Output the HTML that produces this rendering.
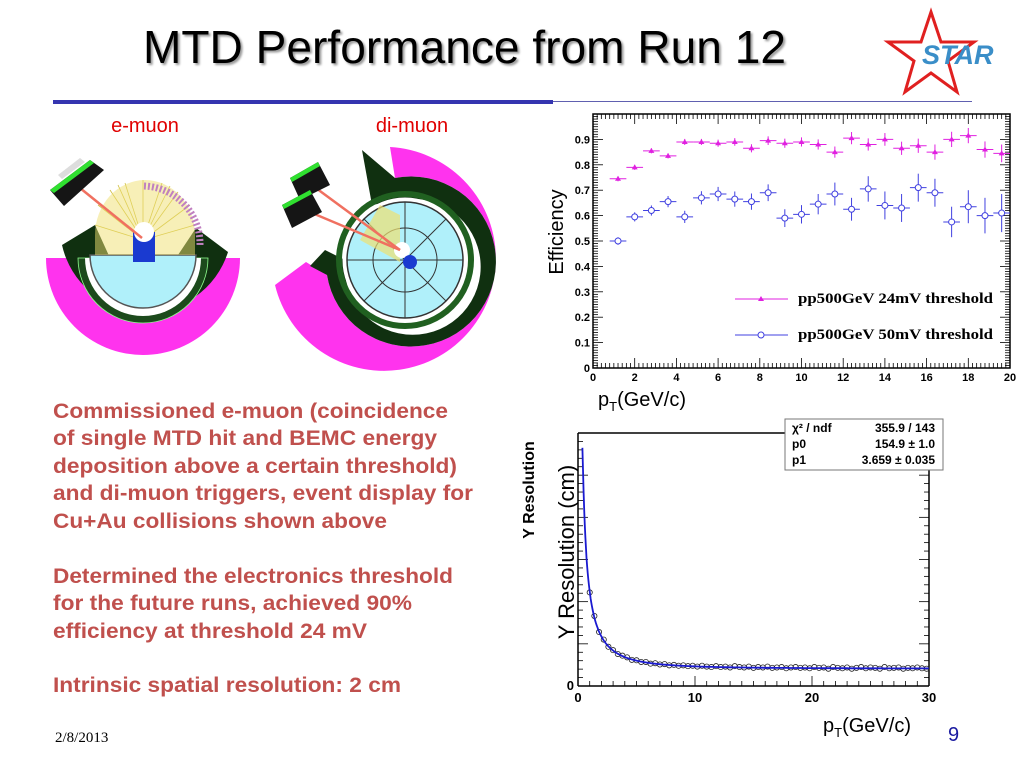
<!DOCTYPE html>
<html><head><meta charset="utf-8"><style>
html,body{margin:0;padding:0;background:#fff;}
svg{display:block;font-family:"Liberation Sans",sans-serif;}
</style></head><body>
<svg id="s" width="1024" height="768" viewBox="0 0 1024 768">
<text x="143" y="63" font-size="46" textLength="643" lengthAdjust="spacingAndGlyphs" fill="#000" style="text-shadow:2px 2px 2px #999">MTD Performance from Run 12</text>
<g>
<polygon points="931,12 941,42 974,42 948,61 957,92 931,73 905,92 914,61 888,42 921,42" fill="none" stroke="#e02020" stroke-width="3"/>
<text x="922" y="64" font-size="27" font-weight="bold" font-style="italic" fill="#3a8ec8">STAR</text>
</g>
<rect x="53" y="100" width="500" height="4" fill="#3535b0"/>
<rect x="553" y="101" width="419" height="1" fill="#6060b0"/>
<text x="145" y="132" font-size="20" fill="#e00000" text-anchor="middle">e-muon</text>
<text x="412" y="132" font-size="20" fill="#e00000" text-anchor="middle">di-muon</text>

<g>
<path d="M46,258 L240,258 A97,97 0 0 1 46,258 Z" fill="#ff33ee"/>
<path d="M62,245 L95,225 L110,258 L176,258 L196,228 L228,252 A86,86 0 0 1 62,245 Z" fill="#103010"/>
<path d="M78,258 L208,258 A65,65 0 0 1 78,258 Z" fill="#1c4a1c" stroke="#90ff90" stroke-width="0.8"/>
<path d="M85,258 L201,258 A58,58 0 0 1 85,258 Z" fill="#fff"/>
<path d="M90,255 L196,255 A53,53 0 0 1 90,255 Z" fill="#b0f0fa" stroke="#555" stroke-width="1.5"/>
<g stroke="#cfbe40" stroke-width="0.8">
<line x1="143" y1="240" x2="98" y2="205"/><line x1="143" y1="240" x2="110" y2="190"/><line x1="143" y1="240" x2="125" y2="183"/><line x1="143" y1="240" x2="143" y2="180"/><line x1="143" y1="240" x2="162" y2="183"/><line x1="143" y1="240" x2="178" y2="192"/><line x1="143" y1="240" x2="190" y2="205"/><line x1="143" y1="240" x2="95" y2="225"/><line x1="143" y1="240" x2="195" y2="225"/><line x1="143" y1="240" x2="118" y2="185"/><line x1="143" y1="240" x2="170" y2="186"/></g>
<path d="M95,235 A50,55 0 0 1 195,235 L195,255 L95,255Z" fill="#f0e070" opacity="0.5"/>
<rect x="133" y="232" width="22" height="30" fill="#1a3ad0"/><circle cx="144" cy="232" r="10" fill="#fff"/>
<line x1="80" y1="188" x2="142" y2="238" stroke="#f07060" stroke-width="2.5"/>
<path d="M144,186 A58,58 0 0 1 200,245" fill="none" stroke="#c080c0" stroke-width="7" stroke-dasharray="2,2"/>
<polygon points="50,190 90,160 104,170 64,206" fill="#151515"/><polygon points="50,190 90,160 94,163 54,193" fill="#30e030"/>
<polygon points="58,175 80,158 85,162 62,179" fill="#ddd"/>
</g>

<g>
<path d="M390,147 A112,112 0 1 1 275,285 L306,262 L327,275 A85,85 0 1 0 395,178 Z" fill="#ff33ee"/>
<path d="M395,178 A85,85 0 1 1 327,275 L310,266 L325,250 L345,260 A68,68 0 1 0 400,200 L372,205 L362,150 Z" fill="#103010"/>
<circle cx="405" cy="260" r="66" fill="none" stroke="#206020" stroke-width="6"/>
<circle cx="405" cy="260" r="61" fill="none" stroke="#fff" stroke-width="3"/>
<circle cx="405" cy="260" r="58" fill="#b0f0fa" stroke="#333" stroke-width="1.5"/>
<g stroke="#333" stroke-width="1"><circle cx="405" cy="260" r="32" fill="none"/>
<line x1="405" y1="202" x2="405" y2="318"/><line x1="347" y1="260" x2="463" y2="260"/><line x1="364" y1="219" x2="446" y2="301"/><line x1="446" y1="219" x2="364" y2="301"/></g>
<path d="M360,240 L380,205 L400,215 L400,262 Z" fill="#f0e070" opacity="0.7"/>
<circle cx="402" cy="250" r="8" fill="#fff"/><circle cx="410" cy="262" r="7" fill="#1a3ad0"/>
<line x1="305" y1="180" x2="400" y2="250" stroke="#f07060" stroke-width="2.5"/>
<line x1="305" y1="210" x2="400" y2="250" stroke="#f07060" stroke-width="2.5"/>
<polygon points="290,178 318,162 330,185 300,200" fill="#151515"/><polygon points="290,178 318,162 320,166 292,182" fill="#30e030"/>
<polygon points="282,205 310,190 322,212 292,228" fill="#151515"/><polygon points="282,205 310,190 312,194 284,209" fill="#30e030"/>
</g>

<g fill="#c0504d" font-size="21" font-weight="bold" lengthAdjust="spacingAndGlyphs">
<text x="53" y="418" textLength="395" lengthAdjust="spacingAndGlyphs">Commissioned e-muon (coincidence</text>
<text x="53" y="445" textLength="384" lengthAdjust="spacingAndGlyphs">of single MTD hit and BEMC energy</text>
<text x="53" y="473" textLength="404" lengthAdjust="spacingAndGlyphs">deposition above a certain threshold)</text>
<text x="53" y="500" textLength="420" lengthAdjust="spacingAndGlyphs">and di-muon triggers, event display for</text>
<text x="53" y="528" textLength="334" lengthAdjust="spacingAndGlyphs">Cu+Au collisions shown above</text>
<text x="53" y="583" textLength="400" lengthAdjust="spacingAndGlyphs">Determined the electronics threshold</text>
<text x="53" y="610" textLength="359" lengthAdjust="spacingAndGlyphs">for the future runs, achieved 90%</text>
<text x="53" y="638" textLength="314" lengthAdjust="spacingAndGlyphs">efficiency at threshold 24 mV</text>
<text x="53" y="692" textLength="348" lengthAdjust="spacingAndGlyphs">Intrinsic spatial resolution: 2 cm</text>
</g>
<text x="55" y="742" font-family="Liberation Serif,serif" font-size="15" fill="#000">2/8/2013</text>
<text x="948" y="741" font-size="20" fill="#1a1aa0">9</text>

<g id="eff"></g>
<g id="res"></g>
</svg>
<script>
// ---- efficiency chart data ----
const effPt = [1.2,2,2.8,3.6,4.4,5.2,6,6.8,7.6,8.4,9.2,10,10.8,11.6,12.4,13.2,14,14.8,15.6,16.4,17.2,18,18.8,19.6];
const eff24 = [0.745,0.79,0.855,0.835,0.89,0.89,0.885,0.89,0.865,0.895,0.885,0.89,0.88,0.85,0.905,0.88,0.9,0.865,0.875,0.85,0.9,0.915,0.86,0.845];
const err24 = [0.01,0.01,0.01,0.01,0.012,0.012,0.014,0.015,0.016,0.017,0.018,0.018,0.02,0.022,0.024,0.024,0.025,0.026,0.028,0.03,0.03,0.03,0.032,0.035];
const eff50 = [0.50,0.595,0.62,0.655,0.595,0.67,0.685,0.665,0.655,0.69,0.59,0.605,0.645,0.685,0.625,0.705,0.64,0.63,0.71,0.69,0.575,0.635,0.60,0.61];
const err50 = [0.015,0.018,0.02,0.022,0.024,0.026,0.028,0.03,0.032,0.033,0.035,0.036,0.04,0.045,0.045,0.05,0.055,0.055,0.055,0.055,0.06,0.065,0.07,0.075];
const effYTicks = ['0','0.1','0.2','0.3','0.4','0.5','0.6','0.7','0.8','0.9'];
const effXTicks = ['0','2','4','6','8','10','12','14','16','18','20'];
// ---- resolution chart data ----
const resPt = [1.0,1.4,1.8,2.2,2.6,3.0,3.4,3.8,4.2,4.6,5.0,5.4,5.8,6.2,6.6,7.0,7.4,7.8,8.2,8.6,9.0,9.4,9.8,10.2,10.6,11.0,11.4,11.8,12.2,12.6,13.0,13.4,13.8,14.2,14.6,15.0,15.4,15.8,16.2,16.6,17.0,17.4,17.8,18.2,18.6,19.0,19.4,19.8,20.2,20.6,21.0,21.4,21.8,22.2,22.6,23.0,23.4,23.8,24.2,24.6,25.0,25.4,25.8,26.2,26.6,27.0,27.4,27.8,28.2,28.6,29.0,29.4,29.8];
const resVal = [2.22,1.66,1.28,1.10,0.93,0.85,0.76,0.72,0.68,0.62,0.61,0.57,0.57,0.53,0.54,0.51,0.52,0.49,0.50,0.48,0.49,0.47,0.48,0.46,0.48,0.46,0.45,0.47,0.45,0.46,0.44,0.47,0.45,0.44,0.46,0.43,0.45,0.44,0.46,0.43,0.44,0.45,0.42,0.44,0.45,0.43,0.44,0.42,0.45,0.43,0.44,0.41,0.45,0.43,0.42,0.44,0.41,0.43,0.45,0.42,0.44,0.43,0.41,0.45,0.42,0.43,0.44,0.41,0.43,0.42,0.44,0.42,0.41];
const fitA = [2.2];
const fitB = [0.41];
const resXTicks = ['0','10','20','30'];
const statLabels = ['χ² / ndf','p0','p1'];
const statValues = ['355.9 / 143','154.9 ± 1.0','3.659 ± 0.035'];

const NS='http://www.w3.org/2000/svg';
function mk(parent,tag,attrs){const e=document.createElementNS(NS,tag);for(const k in attrs)e.setAttribute(k,attrs[k]);parent.appendChild(e);return e;}

// efficiency axes
const eg=document.getElementById('eff');
const ex0=593,ex1=1010,ey0=368,ey1=114;
const exs=v=>ex0+(v/20)*(ex1-ex0);
const eys=v=>ey0-(v/1.0)*(ey0-ey1);
let fr=mk(eg,'rect',{x:ex0,y:ey1,width:ex1-ex0,height:ey0-ey1,fill:'#fff',stroke:'#000','stroke-width':1.5});


for(let i=0;i<=100;i++){const v=i*0.01;const len=i%10===0?10:5;
 mk(eg,'line',{x1:ex0,x2:ex0+len,y1:eys(v),y2:eys(v),stroke:'#000','stroke-width':0.8});
 mk(eg,'line',{x1:ex1,x2:ex1-len,y1:eys(v),y2:eys(v),stroke:'#000','stroke-width':0.8});}
for(let i=0;i<=100;i++){const v=i*0.2;const len=i%10===0?10:5;
 mk(eg,'line',{x1:exs(v),x2:exs(v),y1:ey0,y2:ey0-len,stroke:'#000','stroke-width':0.8});
 mk(eg,'line',{x1:exs(v),x2:exs(v),y1:ey1,y2:ey1+len,stroke:'#000','stroke-width':0.8});}
effYTicks.forEach((t,i)=>{const e=mk(eg,'text',{x:ex0-3,y:eys(i*0.1)+4,'font-size':11,'font-weight':'bold','text-anchor':'end'});e.textContent=t;
 
 });
effXTicks.forEach((t,i)=>{const e=mk(eg,'text',{x:exs(i*2),y:ey0+13,'font-size':11,'font-weight':'bold','text-anchor':'middle'});e.textContent=t;
 
 });
let yt=mk(eg,'text',{x:0,y:0,'font-size':20,'text-anchor':'middle',transform:'translate(563,232) rotate(-90)'});yt.textContent='Efficiency';


let xt=mk(eg,'text',{x:598,y:406,'font-size':20});xt.innerHTML='p<tspan font-size="13" dy="5">T</tspan><tspan dy="-5">(GeV/c)</tspan>';


function series(vals,errs,color,marker,name){
 vals.forEach((v,i)=>{const g=mk(eg,'g',{});
  
  
  const x=exs(effPt[i]),y=eys(v);
  mk(g,'line',{x1:exs(effPt[i]-0.4),x2:exs(effPt[i]+0.4),y1:y,y2:y,stroke:color,'stroke-width':1});
  mk(g,'line',{x1:x,x2:x,y1:eys(v-errs[i]),y2:eys(v+errs[i]),stroke:color,'stroke-width':1});
  if(marker==='tri')mk(g,'polygon',{points:`${x},${y-3} ${x-3},${y+2} ${x+3},${y+2}`,fill:color});
  else mk(g,'circle',{cx:x,cy:y,r:3,fill:'#fff',stroke:color,'stroke-width':1});
 });}
series(eff24,err24,'#e020e0','tri','eff-24mv');
series(eff50,err50,'#4040e0','circ','eff-50mv');
const lg=mk(eg,'g',{});


mk(lg,'line',{x1:735,x2:788,y1:299,y2:299,stroke:'#e020e0'});
mk(lg,'polygon',{points:'761,296 758,301 764,301',fill:'#e020e0'});
mk(lg,'line',{x1:735,x2:788,y1:335,y2:335,stroke:'#4040e0'});
mk(lg,'circle',{cx:761,cy:335,r:3,fill:'#fff',stroke:'#4040e0'});
let l1=mk(lg,'text',{x:798,y:303,'font-size':15,'font-weight':'bold','font-family':'Liberation Serif,serif',textLength:195,lengthAdjust:'spacingAndGlyphs'});l1.textContent='pp500GeV 24mV threshold';
let l2=mk(lg,'text',{x:798,y:339,'font-size':15,'font-weight':'bold','font-family':'Liberation Serif,serif',textLength:195,lengthAdjust:'spacingAndGlyphs'});l2.textContent='pp500GeV 50mV threshold';

// resolution chart
const rg=document.getElementById('res');
const rx0=578,rx1=929,ry0=686,ry1=433;
const rxs=v=>rx0+(v/30)*(rx1-rx0);
const rys=v=>ry0-(v/6)*(ry0-ry1);
mk(rg,'line',{x1:rx0,x2:rx1,y1:ry0,y2:ry0,stroke:'#000','stroke-width':1.5});
mk(rg,'line',{x1:rx0,x2:rx0,y1:ry0,y2:ry1,stroke:'#000','stroke-width':1.5});
mk(rg,'line',{x1:rx1,x2:rx1,y1:ry0,y2:ry1,stroke:'#000','stroke-width':1.5});
mk(rg,'line',{x1:rx0,x2:rx1,y1:ry1,y2:ry1,stroke:'#000','stroke-width':1.5});
for(let i=0;i<=30;i++){const v=i*0.2;const len=i%5===0?10:5;
 mk(rg,'line',{x1:rx0,x2:rx0+len,y1:rys(v),y2:rys(v),stroke:'#000','stroke-width':0.8});
 mk(rg,'line',{x1:rx1,x2:rx1-len,y1:rys(v),y2:rys(v),stroke:'#000','stroke-width':0.8});}
for(let i=0;i<=30;i++){const len=i%10===0?10:5;
 mk(rg,'line',{x1:rxs(i),x2:rxs(i),y1:ry0,y2:ry0-len,stroke:'#000','stroke-width':0.8});}
resXTicks.forEach((t,i)=>{const e=mk(rg,'text',{x:rxs(i*10),y:ry0+16,'font-size':13,'font-weight':'bold','text-anchor':'middle'});e.textContent=t;
 
 });
let z=mk(rg,'text',{x:rx0-4,y:ry0+4,'font-size':13,'font-weight':'bold','text-anchor':'end'});z.textContent='0';
resPt.forEach((p,i)=>{const c=mk(rg,'circle',{cx:rxs(p),cy:rys(resVal[i]),r:2.6,fill:'none',stroke:'#222','stroke-width':0.8});
 
 });
let d='';for(let x=0.38;x<=30;x+=0.05){const y=Math.sqrt(Math.pow(fitA[0]/x,2)+fitB[0]*fitB[0]);const yy=Math.min(y,5.65);d+=(d?'L':'M')+rxs(x).toFixed(1)+','+rys(yy).toFixed(1);}
const fp=mk(rg,'path',{d:d,fill:'none',stroke:'#1a1ad0','stroke-width':1.8});


const sb=mk(rg,'g',{});


mk(sb,'rect',{x:785,y:419,width:158,height:51,fill:'#fff',stroke:'#777','stroke-width':1});
statLabels.forEach((t,i)=>{const a=mk(sb,'text',{x:792,y:432+i*16,'font-size':12,'font-weight':'bold'});a.textContent=t;
 const b=mk(sb,'text',{x:935,y:432+i*16,'font-size':12,'font-weight':'bold','text-anchor':'end'});b.textContent=statValues[i];});
let ry=mk(rg,'text',{x:0,y:0,'font-size':16,'font-weight':'bold','text-anchor':'middle',transform:'translate(534,490) rotate(-90)'});ry.textContent='Y Resolution';


let ry2=mk(rg,'text',{x:0,y:0,'font-size':22,'text-anchor':'middle',transform:'translate(574,552) rotate(-90)'});ry2.textContent='Y Resolution (cm)';


let rx=mk(rg,'text',{x:823,y:732,'font-size':20});rx.innerHTML='p<tspan font-size="13" dy="5">T</tspan><tspan dy="-5">(GeV/c)</tspan>';


</script>
</body></html>
